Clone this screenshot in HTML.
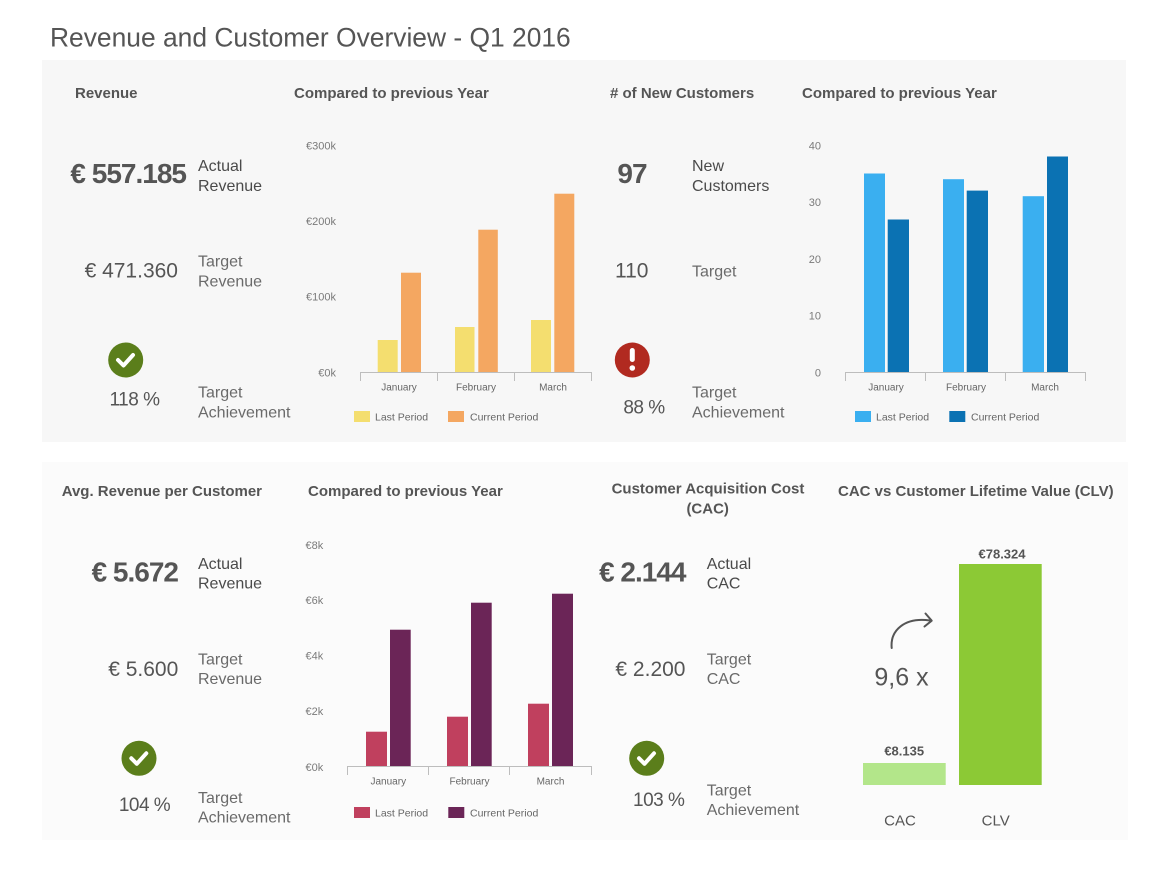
<!DOCTYPE html>
<html>
<head>
<meta charset="utf-8">
<style>
  html,body{margin:0;padding:0;background:#fff;}
  svg{display:block;}
  text{font-family:"Liberation Sans",Arial,sans-serif;}
  .h{font-size:15px;font-weight:bold;fill:#555;}
  .big{font-size:28px;font-weight:bold;fill:#555;letter-spacing:-1px;}
  .mid{font-size:21px;fill:#555;}
  .pct{font-size:19px;fill:#555;letter-spacing:-0.5px;}
  .lbA{font-size:16px;fill:#4a4a4a;}
  .lbT{font-size:16px;fill:#6a6a6a;}
  .ax{font-size:11px;fill:#7a7a7a;}
  .mo{font-size:10px;fill:#666;}
  .lg{font-size:10.5px;fill:#666;}
</style>
</head>
<body>
<svg width="1168" height="880" viewBox="0 0 1168 880" xmlns="http://www.w3.org/2000/svg">
  <rect x="0" y="0" width="1168" height="880" fill="#fff"/>
  <!-- Title -->
  <text x="50" y="46.5" style="font-size:26.4px;fill:#555;">Revenue and Customer Overview - Q1 2016</text>

  <!-- Panels -->
  <rect x="42" y="60" width="1084" height="382" fill="#f7f7f7"/>
  <rect x="42" y="462" width="1086" height="378" fill="#fbfbfb"/>

  <!-- ===== TOP LEFT: Revenue ===== -->
  <text class="h" x="75" y="98">Revenue</text>
  <text class="big" x="186" y="183" text-anchor="end">€ 557.185</text>
  <text class="lbA" x="198" y="171">Actual</text>
  <text class="lbA" x="198" y="191">Revenue</text>
  <text class="mid" x="178" y="277.5" text-anchor="end">€ 471.360</text>
  <text class="lbT" x="198" y="266.7">Target</text>
  <text class="lbT" x="198" y="286.7">Revenue</text>
  <circle cx="125.7" cy="360" r="17.5" fill="#5b7e1b"/>
  <polyline points="118,360 123.5,365.5 133,355" fill="none" stroke="#fff" stroke-width="4" stroke-linecap="round" stroke-linejoin="round"/>
  <text class="pct" x="134.5" y="405.7" text-anchor="middle">118 %</text>
  <text class="lbT" x="198" y="397.4">Target</text>
  <text class="lbT" x="198" y="417.4">Achievement</text>

  <!-- Revenue chart -->
  <text class="h" x="294" y="98">Compared to previous Year</text>
  <g class="ax" text-anchor="end">
    <text x="336" y="149.6">€300k</text>
    <text x="336" y="225">€200k</text>
    <text x="336" y="300.6">€100k</text>
    <text x="336" y="376.5">€0k</text>
  </g>
  <rect x="377.7" y="340" width="20" height="32" fill="#f4de6f"/>
  <rect x="401" y="272.7" width="20" height="99.3" fill="#f4a761"/>
  <rect x="455" y="327" width="19.5" height="45" fill="#f4de6f"/>
  <rect x="478.3" y="229.7" width="19.5" height="142.3" fill="#f4a761"/>
  <rect x="531" y="320" width="20" height="52" fill="#f4de6f"/>
  <rect x="554.3" y="193.7" width="20" height="178.3" fill="#f4a761"/>
  <g stroke="#bdbdbd" stroke-width="1">
    <line x1="360" y1="372.5" x2="592" y2="372.5"/>
    <line x1="360.5" y1="372" x2="360.5" y2="381"/>
    <line x1="437.5" y1="372" x2="437.5" y2="381"/>
    <line x1="514.5" y1="372" x2="514.5" y2="381"/>
    <line x1="591.5" y1="372" x2="591.5" y2="381"/>
  </g>
  <g class="mo" text-anchor="middle">
    <text x="399" y="390.3">January</text>
    <text x="476" y="390.3">February</text>
    <text x="553" y="390.3">March</text>
  </g>
  <rect x="354" y="411" width="16" height="11" fill="#f4de6f"/>
  <text class="lg" x="375" y="420.5">Last Period</text>
  <rect x="448" y="411" width="16" height="11" fill="#f4a761"/>
  <text class="lg" x="470" y="420.5">Current Period</text>

  <!-- ===== TOP RIGHT: New Customers ===== -->
  <text class="h" x="610" y="98"># of New Customers</text>
  <text class="big" x="632" y="183" text-anchor="middle">97</text>
  <text class="lbA" x="692" y="171">New</text>
  <text class="lbA" x="692" y="191">Customers</text>
  <text class="mid" x="631.7" y="277.5" text-anchor="middle">110</text>
  <text class="lbT" x="692" y="276.7">Target</text>
  <circle cx="632.3" cy="360" r="17.5" fill="#b12a20"/>
  <rect x="629.8" y="348" width="5" height="14" rx="2.5" fill="#fff"/>
  <circle cx="632.3" cy="368" r="2.8" fill="#fff"/>
  <text class="pct" x="644" y="413.5" text-anchor="middle">88 %</text>
  <text class="lbT" x="692" y="397.4">Target</text>
  <text class="lbT" x="692" y="417.4">Achievement</text>

  <!-- Customer chart -->
  <text class="h" x="802" y="98">Compared to previous Year</text>
  <g class="ax" text-anchor="end">
    <text x="821" y="149.6">40</text>
    <text x="821" y="206.2">30</text>
    <text x="821" y="263">20</text>
    <text x="821" y="319.6">10</text>
    <text x="821" y="376.5">0</text>
  </g>
  <rect x="864" y="173.5" width="21" height="198.5" fill="#3aaff0"/>
  <rect x="887.7" y="219.5" width="21.3" height="152.5" fill="#0b72b3"/>
  <rect x="943" y="179.2" width="21" height="192.8" fill="#3aaff0"/>
  <rect x="966.7" y="190.6" width="21.3" height="181.4" fill="#0b72b3"/>
  <rect x="1022.7" y="196.2" width="21.3" height="175.8" fill="#3aaff0"/>
  <rect x="1047" y="156.5" width="21" height="215.5" fill="#0b72b3"/>
  <g stroke="#bdbdbd" stroke-width="1">
    <line x1="845" y1="372.5" x2="1086" y2="372.5"/>
    <line x1="845.5" y1="372" x2="845.5" y2="381"/>
    <line x1="925.5" y1="372" x2="925.5" y2="381"/>
    <line x1="1005.5" y1="372" x2="1005.5" y2="381"/>
    <line x1="1085.5" y1="372" x2="1085.5" y2="381"/>
  </g>
  <g class="mo" text-anchor="middle">
    <text x="886" y="390.3">January</text>
    <text x="966" y="390.3">February</text>
    <text x="1045" y="390.3">March</text>
  </g>
  <rect x="855" y="411" width="16" height="11" fill="#3aaff0"/>
  <text class="lg" x="876" y="420.5">Last Period</text>
  <rect x="949.3" y="411" width="16" height="11" fill="#0b72b3"/>
  <text class="lg" x="971" y="420.5">Current Period</text>

  <!-- ===== BOTTOM LEFT: Avg revenue ===== -->
  <text class="h" x="61.7" y="496">Avg. Revenue per Customer</text>
  <text class="big" x="178" y="581.7" text-anchor="end">€ 5.672</text>
  <text class="lbA" x="198" y="569">Actual</text>
  <text class="lbA" x="198" y="588.4">Revenue</text>
  <text class="mid" x="178.3" y="675.8" text-anchor="end">€ 5.600</text>
  <text class="lbT" x="198" y="664.7">Target</text>
  <text class="lbT" x="198" y="684">Revenue</text>
  <circle cx="139" cy="758.3" r="17.5" fill="#5b7e1b"/>
  <polyline points="131.3,758.3 136.8,763.8 146.3,753.3" fill="none" stroke="#fff" stroke-width="4" stroke-linecap="round" stroke-linejoin="round"/>
  <text class="pct" x="144.5" y="810.8" text-anchor="middle">104 %</text>
  <text class="lbT" x="198" y="803">Target</text>
  <text class="lbT" x="198" y="822.4">Achievement</text>

  <!-- Avg revenue chart -->
  <text class="h" x="308" y="496">Compared to previous Year</text>
  <g class="ax" text-anchor="end">
    <text x="323.3" y="549">€8k</text>
    <text x="323.3" y="604">€6k</text>
    <text x="323.3" y="659.6">€4k</text>
    <text x="323.3" y="715.2">€2k</text>
    <text x="323.3" y="771">€0k</text>
  </g>
  <rect x="366" y="731.7" width="21" height="34.8" fill="#c0405e"/>
  <rect x="390" y="629.7" width="20.7" height="136.8" fill="#6b2557"/>
  <rect x="447" y="716.7" width="21" height="49.8" fill="#c0405e"/>
  <rect x="471" y="602.7" width="20.7" height="163.8" fill="#6b2557"/>
  <rect x="528" y="703.7" width="21" height="62.8" fill="#c0405e"/>
  <rect x="552" y="593.7" width="21" height="172.8" fill="#6b2557"/>
  <g stroke="#bdbdbd" stroke-width="1">
    <line x1="347" y1="766.5" x2="592" y2="766.5"/>
    <line x1="347.5" y1="766" x2="347.5" y2="775"/>
    <line x1="428.5" y1="766" x2="428.5" y2="775"/>
    <line x1="509.5" y1="766" x2="509.5" y2="775"/>
    <line x1="591.5" y1="766" x2="591.5" y2="775"/>
  </g>
  <g class="mo" text-anchor="middle">
    <text x="388.3" y="784.3">January</text>
    <text x="469.5" y="784.3">February</text>
    <text x="550.5" y="784.3">March</text>
  </g>
  <rect x="354" y="807" width="16" height="11" fill="#c0405e"/>
  <text class="lg" x="375" y="816.5">Last Period</text>
  <rect x="448.3" y="807" width="16" height="11" fill="#6b2557"/>
  <text class="lg" x="470" y="816.5">Current Period</text>

  <!-- ===== BOTTOM: CAC ===== -->
  <text class="h" x="708" y="493.7" text-anchor="middle">Customer Acquisition Cost</text>
  <text class="h" x="707.7" y="513.7" text-anchor="middle">(CAC)</text>
  <text class="big" x="685.5" y="581.7" text-anchor="end">€ 2.144</text>
  <text class="lbA" x="706.7" y="569">Actual</text>
  <text class="lbA" x="706.7" y="588.4">CAC</text>
  <text class="mid" x="685.5" y="675.8" text-anchor="end">€ 2.200</text>
  <text class="lbT" x="706.7" y="664.7">Target</text>
  <text class="lbT" x="706.7" y="684">CAC</text>
  <circle cx="646.7" cy="758.3" r="17.5" fill="#5b7e1b"/>
  <polyline points="639,758.3 644.5,763.8 654,753.3" fill="none" stroke="#fff" stroke-width="4" stroke-linecap="round" stroke-linejoin="round"/>
  <text class="pct" x="658.7" y="805.8" text-anchor="middle">103 %</text>
  <text class="lbT" x="706.7" y="795.7">Target</text>
  <text class="lbT" x="706.7" y="815">Achievement</text>

  <!-- ===== CAC vs CLV ===== -->
  <text class="h" x="838" y="496">CAC vs Customer Lifetime Value (CLV)</text>
  <rect x="959" y="564" width="82.7" height="221" fill="#8cc935"/>
  <rect x="863" y="763" width="82.7" height="22" fill="#b3e68a"/>
  <text x="1002" y="558.7" text-anchor="middle" style="font-size:13px;font-weight:bold;fill:#555;">€78.324</text>
  <text x="904.2" y="755.7" text-anchor="middle" style="font-size:13px;font-weight:bold;fill:#555;">€8.135</text>
  <text x="901.5" y="685.5" text-anchor="middle" style="font-size:25px;fill:#555;">9,6 x</text>
  <path d="M891.7 648 C 890 630, 905 617, 930 620.5" fill="none" stroke="#555" stroke-width="2" stroke-linecap="round"/>
  <polyline points="925.5,613.5 931.7,620.7 924.5,626.5" fill="none" stroke="#555" stroke-width="2" stroke-linecap="round" stroke-linejoin="round"/>
  <text x="900" y="825.4" text-anchor="middle" style="font-size:15px;fill:#555;">CAC</text>
  <text x="995.7" y="825.4" text-anchor="middle" style="font-size:15px;fill:#555;">CLV</text>
</svg>
</body>
</html>
